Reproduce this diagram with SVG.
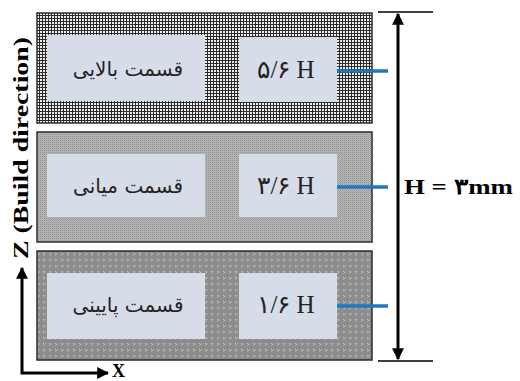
<svg xmlns="http://www.w3.org/2000/svg" width="520" height="381" viewBox="0 0 520 381">
<defs>
<pattern id="pTop" width="3" height="3" patternUnits="userSpaceOnUse">
<rect width="3" height="3" fill="#2a2a2a"/>
<rect x="1" y="1" width="2" height="2" fill="#eeeeee"/>
</pattern>
<pattern id="pMid" width="2" height="2" patternUnits="userSpaceOnUse">
<rect width="2" height="2" fill="#bcbcbc"/>
<rect width="1" height="1" fill="#8e8e8e"/>
<rect x="1" y="1" width="1" height="1" fill="#a4a4a4"/>
</pattern>
<pattern id="pBot" width="6" height="6" patternUnits="userSpaceOnUse">
<rect width="6" height="6" fill="#8c8c8c"/>
<rect x="1" y="1" width="1" height="1" fill="#c8c8c8"/>
<rect x="2" y="2" width="1" height="1" fill="#c8c8c8"/>
<rect x="1" y="3" width="1" height="1" fill="#b0b0b0"/>
<rect x="3" y="1" width="1" height="1" fill="#b0b0b0"/>
</pattern>
<marker id="ah" viewBox="0 0 10 10" refX="9" refY="5" markerWidth="4" markerHeight="4" orient="auto-start-reverse" markerUnits="strokeWidth">
<path d="M0,0 L10,5 L0,10 z" fill="#000"/>
</marker>
</defs>
<style>
.outer{stroke:#2b2b2b;stroke-width:1.5}
.inner{fill:#d6dde8}
.fa{font-family:"DejaVu Sans","Noto Sans",sans-serif;font-size:20px;fill:#222;text-anchor:middle}
.lbl{font-family:"Liberation Serif","DejaVu Serif",serif;font-size:25px;fill:#222;text-anchor:middle}
.bold{font-family:"Liberation Serif","DejaVu Serif",serif;font-weight:bold;fill:#000}
.blue{stroke:#1f77c0;stroke-width:3.5}
.blk{stroke:#000;fill:none}
</style>
<g id="top">
<rect class="outer" x="37" y="13" width="335" height="110" fill="url(#pTop)"/>
<rect class="inner" x="47" y="35" width="158" height="66"/>
<text class="fa" x="128" y="76">قسمت بالایی</text>
<rect class="inner" x="239" y="37" width="98" height="65"/>
<text class="lbl" x="286" y="78">۵/۶ H</text>
</g>
<g id="middle">
<rect class="outer" x="37" y="132" width="335" height="110" fill="url(#pMid)"/>
<rect class="inner" x="47" y="154" width="158" height="63"/>
<text class="fa" x="128" y="193">قسمت میانی</text>
<rect class="inner" x="239" y="154" width="98" height="63"/>
<text class="lbl" x="286" y="194">۳/۶ H</text>
</g>
<g id="bottom">
<rect class="outer" x="37" y="251" width="335" height="109" fill="url(#pBot)"/>
<rect class="inner" x="47" y="273" width="158" height="66"/>
<text class="fa" x="128" y="312">قسمت پایینی</text>
<rect class="inner" x="239" y="273" width="98" height="66"/>
<text class="lbl" x="286" y="313">۱/۶ H</text>
</g>
<g id="connectors">
<line class="blue" x1="337" y1="71" x2="388" y2="71"/>
<line class="blue" x1="337" y1="187" x2="388" y2="187"/>
<line class="blue" x1="337" y1="306" x2="388" y2="306"/>
<line class="blk" x1="378" y1="12" x2="433" y2="12" stroke-width="1.5"/>
<line class="blk" x1="378" y1="361" x2="433" y2="361" stroke-width="1.5"/>
<line class="blk" x1="398" y1="14" x2="398" y2="359" stroke-width="3" marker-start="url(#ah)" marker-end="url(#ah)"/>
<path class="blk" d="M22,268 V373 H108" stroke-width="3" marker-start="url(#ah)" marker-end="url(#ah)"/>
</g>
<g id="labels">
<text class="bold" x="404" y="194" font-size="22" textLength="109" lengthAdjust="spacingAndGlyphs">H = ۳mm</text>
<text class="bold" x="112" y="377" font-size="18">X</text>
<text class="bold" font-size="21" text-anchor="middle" transform="translate(28,148) rotate(-90)" textLength="222" lengthAdjust="spacingAndGlyphs">Z (Build direction)</text>
</g>
</svg>
